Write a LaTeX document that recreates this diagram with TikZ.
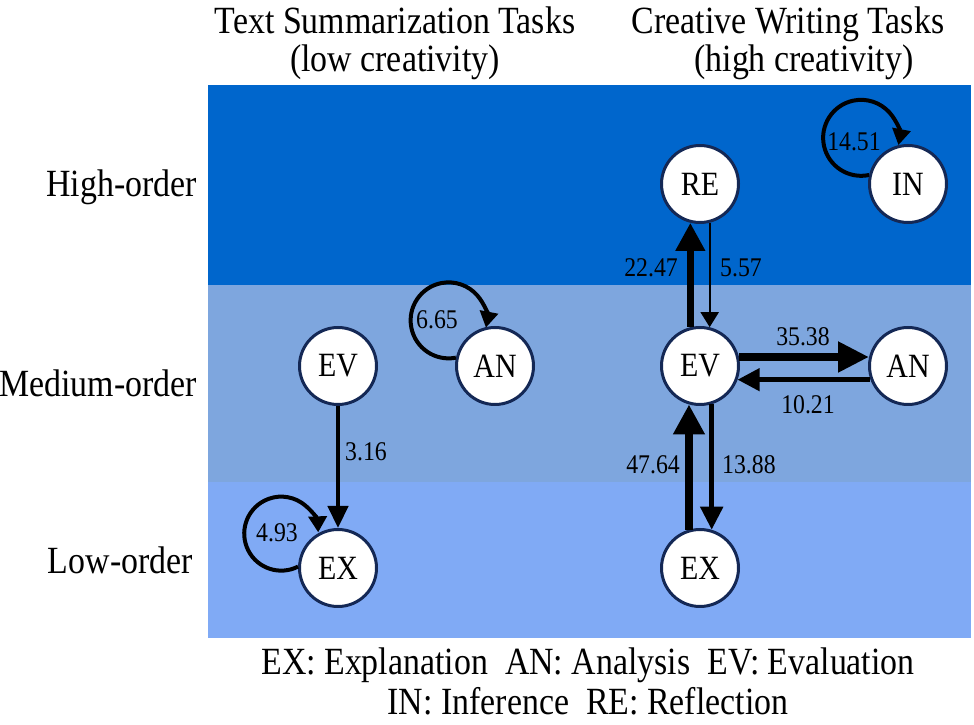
\documentclass[tikz,border=0pt]{standalone}
\usepackage{fontspec}
\setmainfont{Liberation Serif}[FakeStretch=0.88]
\usetikzlibrary{arrows.meta}
\definecolor{bandhigh}{RGB}{0,102,204}
\definecolor{bandmid}{RGB}{126,166,222}
\definecolor{bandlow}{RGB}{128,170,245}
\definecolor{navy}{RGB}{20,40,85}
\begin{document}
\begin{tikzpicture}[x=1pt,y=1pt,
  state/.style={circle,draw=navy,line width=3pt,fill=white,minimum size=77pt,inner sep=0pt,font=\fontsize{34}{36}\selectfont},
  big/.style={font=\fontsize{38.5}{42}\selectfont,inner sep=0pt},
  lab/.style={font=\fontsize{27}{29}\selectfont,inner sep=0pt},
  edge/.style={draw=black}]
\useasboundingbox (0,0) rectangle (974,725);
% bands
\fill[bandhigh] (208,440) rectangle (971,640);
\fill[bandmid] (208,243) rectangle (971,440);
\fill[bandlow] (208,87) rectangle (971,243);
% titles
\node[big,anchor=base] (t1) at (395,691) {Text Summarization Tasks};
\node[big,anchor=base] (t1b) at (395,653) {(low creativity)};
\node[big,anchor=base] (t2) at (788,691) {Creative Writing Tasks};
\node[big,anchor=base] (t2b) at (804,653) {(high creativity)};
% row labels
\node[big,anchor=east] (rh) at (197,538) {High-order};
\node[big,anchor=east] (rm) at (197,342) {Medium-order};
\node[big,anchor=east] (rl) at (193,165) {Low-order};
% legend
\node[big,anchor=base] (lg1) at (588,50) {EX: Explanation\ \ AN: Analysis\ \ EV: Evaluation};
\node[big,anchor=base] (lg2) at (588,10) {IN: Inference\ \ RE: Reflection};
% nodes
\node[state] (EVL) at (338,359) {EV};
\node[state] (ANL) at (495,359) {AN};
\node[state] (EXL) at (338,157) {EX};
\node[state] (RE) at (700,541) {RE};
\node[state] (IN) at (908,541) {IN};
\node[state] (EVR) at (700,359) {EV};
\node[state] (ANR) at (908,359) {AN};
\node[state] (EXR) at (700,157) {EX};
% left column edges
\draw[edge,line width=4.5pt,-{Triangle[length=22pt,width=20pt]}] (EVL) -- (EXL);
\node[lab,anchor=west] (l316) at (345,273) {3.16};
\draw[edge,line width=4pt,-{Triangle[length=16pt,width=18pt]}] (ANL.168) arc[start angle=-79,end angle=-371,radius=38];
\node[lab] (l665) at (437,405) {6.65};
\draw[edge,line width=4pt,-{Triangle[length=16pt,width=18pt]}] (EXL.178) arc[start angle=-63,end angle=-358,radius=37];
\node[lab] (l493) at (277,192) {4.93};
% right column edges
\draw[edge,line width=4pt,-{Triangle[length=16pt,width=18pt]}] (IN.167) arc[start angle=-78,end angle=-371,radius=38];
\node[lab] (l1451) at (854,583) {14.51};
\draw[edge,line width=8pt,-{Triangle[length=30pt,width=30pt]}] (EXR.106) -- (EVR.254);
\node[lab,anchor=east] (l4764) at (680,260) {47.64};
\draw[edge,line width=5pt,-{Triangle[length=23pt,width=22pt]}] (EVR.287) -- (EXR.73);
\node[lab,anchor=west] (l1388) at (722,260) {13.88};
\draw[edge,line width=7pt,-{Triangle[length=28pt,width=28pt]}] (EVR.104) -- (RE.256);
\node[lab,anchor=east] (l2247) at (678,457) {22.47};
\draw[edge,line width=2pt,-{Triangle[length=15pt,width=18pt]}] (RE.284) -- (EVR.76);
\node[lab,anchor=west] (l557) at (720,457) {5.57};
\draw[edge,line width=8pt,-{Triangle[length=31pt,width=29pt]}] (EVR.13) -- (ANR.167);
\node[lab] (l3538) at (803,388) {35.38};
\draw[edge,line width=4.5pt,-{Triangle[length=22pt,width=22pt]}] (ANR.200) -- (EVR.340);
\node[lab] (l1021) at (808,320) {10.21};
\end{tikzpicture}
\end{document}
